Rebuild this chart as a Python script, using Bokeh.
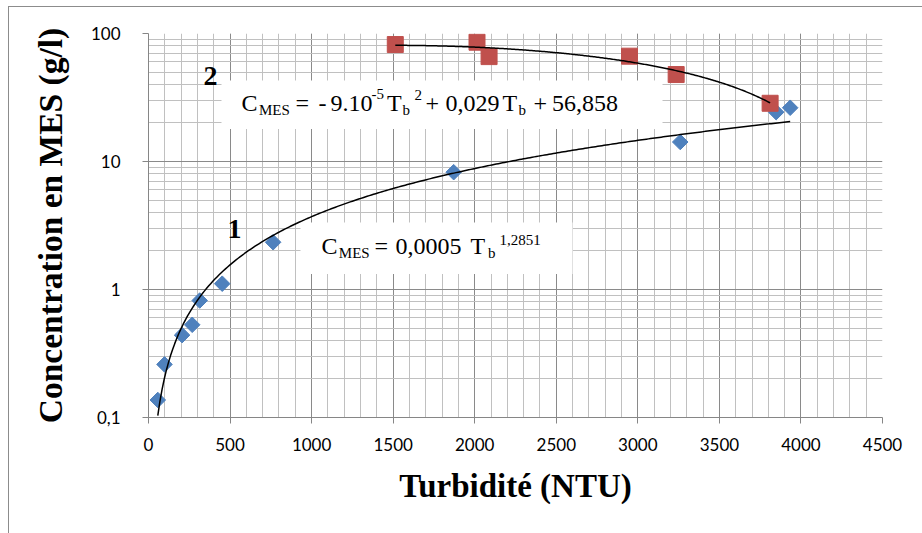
import numpy as np
from bokeh.plotting import figure
from bokeh.models import FixedTicker, CustomJSTickFormatter, Label, BoxAnnotation
from bokeh.embed import file_html
from bokeh.resources import INLINE

# ---------------- data ----------------
turb_1 = [57, 98, 206, 268, 314, 452, 764, 1871, 3260, 3848, 3934]
mes_1 = [0.137, 0.26, 0.44, 0.53, 0.82, 1.11, 2.34, 8.25, 14.2, 24.3, 26.3]

turb_2 = [1513, 2014, 2088, 2949, 3235, 3811]
mes_2 = [82, 85.5, 66, 66.5, 47.8, 28.5]

x_ticks = [0, 500, 1000, 1500, 2000, 2500, 3000, 3500, 4000, 4500]
y_ticks = [0.1, 1, 10, 100]

# ---------------- geometry ----------------
W, H = 914, 527          # canvas (page offset 9,7 via CSS margin/border)
OX, OY = 9, 7
FL, FR, FT, FB = 148 - OX, 882 - OX, 33 - OY, 417 - OY

def dx(px):
    return (px - 148) / (882 - 148) * 4500.0

def dy(py):
    return 10 ** (2 - (py - 33) / (417 - 33) * 3)

p = figure(width=W, height=H, output_backend="svg", toolbar_location=None,
           x_range=(0, 4500), y_range=(0.1, 100), y_axis_type="log",
           min_border_left=FL, min_border_right=W - FR,
           min_border_top=FT, min_border_bottom=H - FB)
p.styles = {"margin-left": "8px", "margin-top": "6px",
            "border-left": "1px solid #8c8c8c", "border-top": "1px solid #8c8c8c"}
p.outline_line_color = None
p.background_fill_color = "white"
p.border_fill_color = "white"

minor_x = [v for v in range(0, 4501, 100)]
minor_y = [m * 10.0 ** e for e in (-1, 0, 1) for m in range(2, 10)]
p.xaxis.ticker = FixedTicker(ticks=x_ticks, minor_ticks=minor_x)
p.yaxis.ticker = FixedTicker(ticks=y_ticks, minor_ticks=minor_y)
p.yaxis.formatter = CustomJSTickFormatter(code="return String(tick).replace('.', ',');")

for ax in (p.xaxis, p.yaxis):
    ax.axis_line_color = "#868686"
    ax.axis_line_width = 1
    ax.major_tick_line_color = "#868686"
    ax.major_tick_in = 0
    ax.major_tick_out = 6
    ax.minor_tick_in = 0
    ax.minor_tick_out = 0
    ax.major_label_text_font = "Lato"
    ax.major_label_text_font_size = "17px"
    ax.major_label_text_color = "#000000"
    ax.axis_label_text_font = "Liberation Serif"
    ax.axis_label_text_font_style = "bold"
    ax.axis_label_text_color = "#000000"

p.xaxis.axis_label = "Turbidité (NTU)"
p.yaxis.axis_label = "Concentration en MES (g/l)"
p.xaxis.axis_label_text_font_size = "33px"
p.yaxis.axis_label_text_font_size = "33.5px"
p.xaxis.major_label_standoff = 14
p.yaxis.major_label_standoff = 22
p.xaxis.axis_label_standoff = 14
p.yaxis.axis_label_standoff = 19

for g in (p.xgrid, p.ygrid):
    g.grid_line_color = "#8a8a8a"
    g.grid_line_width = 1
    g.minor_grid_line_color = "#c0c0c0"
    g.minor_grid_line_width = 1
    g.level = "image"

# white equation boxes
p.add_layout(BoxAnnotation(left=dx(221), right=dx(662), top=dy(80), bottom=dy(128.5),
                           fill_color="white", fill_alpha=1, line_color=None, level="underlay"))
p.add_layout(BoxAnnotation(left=dx(300), right=dx(572), top=dy(222), bottom=dy(273.5),
                           fill_color="white", fill_alpha=1, line_color=None, level="underlay"))

# markers
p.scatter(turb_1, mes_1, marker="square", angle=np.pi / 4, size=11,
          fill_color="#4F81BD", line_color="#4F81BD")
p.scatter(turb_2, mes_2, marker="square", size=16,
          fill_color="#C0504D", line_color="#C0504D")

# trend lines fitted on the data (power and 2nd-order polynomial)
b1, a1 = np.polyfit(np.log(turb_1), np.log(mes_1), 1)
xs1 = np.linspace(min(turb_1), max(turb_1), 300)
p.line(xs1, np.exp(a1) * xs1 ** b1, line_color="black", line_width=1.5)

c2 = np.polyfit(turb_2, mes_2, 2)
xs2 = np.linspace(min(turb_2), max(turb_2), 300)
p.line(xs2, np.polyval(c2, xs2), line_color="black", line_width=1.5)

SERIF = "Liberation Serif"

def put(text, px, base, size, bold=False):
    # place by baseline: convert to the em-box middle used for anchoring
    mid = base - 0.3375 * size
    p.add_layout(Label(x=dx(px), y=dy(mid), text=text, text_font=SERIF,
                       text_font_size=f"{size}px", text_align="left",
                       text_baseline="middle", text_color="black",
                       text_font_style="bold" if bold else "normal"))

M, S = 24, 15
# equation of curve 2
for t, px, py, s in [("C", 241, 111, M), ("MES", 258.5, 114.5, S), ("=", 295, 111, M),
                     ("-", 318, 111, M), ("9.10", 330, 111, M), ("-5", 371, 99, S),
                     ("T", 386.5, 111, M), ("b", 402, 114.5, S), ("2", 414, 100, S),
                     ("+", 425, 111, M), ("0,029", 445, 111, M), ("T", 502, 111, M),
                     ("b", 518, 114.5, S), ("+", 533, 111, M), ("56,858", 551.5, 111, M)]:
    put(t, px, py, s)

# equation of curve 1
for t, px, py, s in [("C", 321, 254, M), ("MES", 338.3, 257.5, S), ("=", 374, 254, M),
                     ("0,0005", 395, 254, M), ("T", 470, 254, M), ("b", 487.5, 257.5, S),
                     ("1,2851", 499, 245, S)]:
    put(t, px, py, s)

put("2", 203, 85, 28, bold=True)
put("1", 227, 238, 28, bold=True)

open("out.html", "w").write(file_html(p, INLINE))
